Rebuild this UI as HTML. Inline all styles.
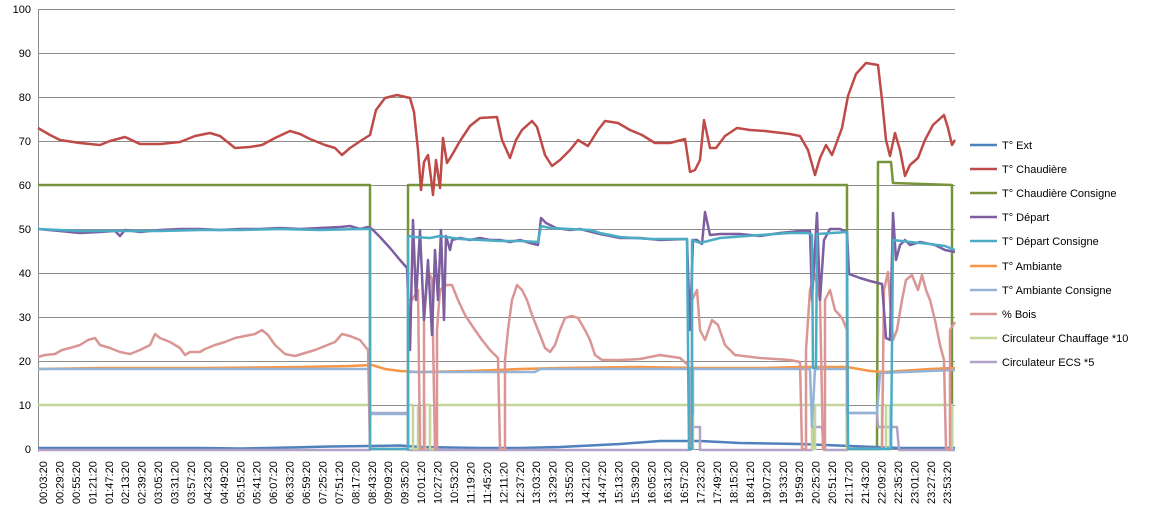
<!DOCTYPE html>
<html><head><meta charset="utf-8"><style>
body{margin:0;background:#fff;width:1158px;height:513px;overflow:hidden;font-family:"Liberation Sans",sans-serif}
svg text{font-family:"Liberation Sans",sans-serif;font-size:11px;fill:#000}
</style></head><body>
<svg width="1158" height="513" viewBox="0 0 1158 513" xmlns="http://www.w3.org/2000/svg">
<g stroke="#8c8c8c" stroke-width="1">
<line x1="38" y1="9.5" x2="955" y2="9.5"/><line x1="38" y1="53.5" x2="955" y2="53.5"/><line x1="38" y1="97.5" x2="955" y2="97.5"/><line x1="38" y1="141.5" x2="955" y2="141.5"/><line x1="38" y1="185.5" x2="955" y2="185.5"/><line x1="38" y1="229.5" x2="955" y2="229.5"/><line x1="38" y1="273.5" x2="955" y2="273.5"/><line x1="38" y1="317.5" x2="955" y2="317.5"/><line x1="38" y1="361.5" x2="955" y2="361.5"/><line x1="38" y1="405.5" x2="955" y2="405.5"/><line x1="38" y1="449.5" x2="955" y2="449.5"/>
<line x1="38.5" y1="9" x2="38.5" y2="452"/>
</g>
<g text-anchor="end">
<text x="31" y="13">100</text><text x="31" y="57">90</text><text x="31" y="101">80</text><text x="31" y="145">70</text><text x="31" y="189">60</text><text x="31" y="233">50</text><text x="31" y="277">40</text><text x="31" y="321">30</text><text x="31" y="365">20</text><text x="31" y="409">10</text><text x="31" y="453">0</text>
</g>
<g fill="none" stroke-width="2.5" stroke-linejoin="round">
<polyline stroke="#77933C" points="38,185 370,185 370,449 408,449 408,185 847,185 847,449 877,449 878,162 891,162 893,183 952,185 952,449"/>
<polyline stroke="#4F81BD" points="38,448 200,448 240,448.5 290,447.5 330,446.5 370,446 400,445.5 420,447 480,448 520,448 560,447 620,444 660,441 700,441 740,443 800,444 850,446 900,448 955,448"/>
<polyline stroke="#B3A2C7" points="38,450 370,450 370,413 408,413 408,450 690,450 690,427 700,427 700,450 812,450 814,427 822,427 824,450 847,450 847,413 877,413 878,427 897,427 899,450 955,450"/>
<polyline stroke="#C3D69B" points="38,405 370,405 370,449 408,449 408,405 413,405 413,449 418,449 418,405 420,405 420,449 425,449 425,405 430,405 430,449 435,449 435,405 690,405 690,449 693,449 693,405 812,405 812,449 815,449 815,405 847,405 847,449 882,449 882,405 886,405 886,449 890,449 890,405 952,405 952,449"/>
<polyline stroke="#F79646" points="38,369 100,368 200,368 300,367 350,366 372,365 385,369 400,371 420,372 470,371 520,369 560,368 640,367 700,368 760,368 800,367 847,367 870,371 885,372 900,371 930,369 955,368"/>
<polyline stroke="#95B3D7" points="38,369 370,369 370,414 408,414 408,372 535,372 540,369 690,369 690,414 693,414 693,369 810,369 812,427 815,369 847,369 847,413 877,413 880,373 955,370"/>
<polyline stroke="#D99694" points="38,357 45,355 55,354 62,350 70,348 80,345 88,340 95,338 100,345 110,348 120,352 130,354 140,350 150,345 155,334 160,338 170,342 180,348 185,355 190,352 200,352 205,349 215,345 225,342 235,338 245,336 255,334 262,330 268,335 275,345 285,354 295,356 305,353 315,350 325,346 335,342 342,334 350,336 360,340 368,350 370,449 408,449 408,300 412,300 418,290 420,449 424,449 424,320 428,270 432,280 435,449 437,449 437,330 440,290 446,285 452,285 458,300 465,315 475,330 482,340 490,350 498,358 500,449 505,449 505,360 508,330 512,300 517,285 522,290 527,300 532,315 540,335 545,348 550,352 555,345 560,330 565,318 572,316 578,318 585,330 590,340 595,355 602,360 620,360 640,359 660,355 680,358 688,365 690,449 692,449 692,300 697,290 700,330 705,340 712,320 718,325 725,345 735,355 760,358 790,360 800,362 802,449 806,449 806,350 810,290 815,274 820,300 823,449 825,449 825,300 830,290 835,310 842,318 847,330 848,449 882,449 884,290 888,272 890,300 893,340 897,330 902,300 906,280 912,275 918,290 922,275 926,290 930,300 935,320 940,345 944,360 946,449 950,449 950,330 955,322"/>
<polyline stroke="#7D5FA0" points="38,229 60,231 80,233 100,232 115,231 120,236 125,230 140,232 160,230 180,229 200,229 220,230 240,229 260,229 280,228 300,229 320,228 340,227 350,226 360,229 368,227 372,229 380,237 390,248 400,260 407,268 410,350 413,220 416,300 420,230 424,320 428,260 432,335 435,250 438,300 441,230 444,320 446,236 450,250 452,240 460,238 470,240 480,238 490,240 500,240 510,242 520,240 530,243 538,245 541,218 546,223 556,228 570,230 580,229 600,234 620,238 640,238 660,240 687,239 690,330 693,240 697,240 702,244 705,212 710,235 720,234 740,234 760,236 780,233 800,231 810,231 812,300 817,213 820,300 824,240 830,229 840,229 847,232 849,274 860,278 870,281 882,284 886,338 890,340 893,213 896,260 900,245 905,240 910,245 920,242 935,245 945,250 955,252"/>
<polyline stroke="#4BACC6" points="38,229 80,231 120,231 160,231 200,230 240,230 280,229 320,230 360,229 370,229 370,449 408,449 408,236 415,237 430,238 440,236 460,239 480,240 500,241 520,241 538,242 541,226 550,228 570,229 590,230 600,233 620,237 650,239 687,239 689,449 692,449 692,240 700,243 720,238 760,235 790,233 808,233 812,235 813,368 816,368 817,234 847,232 848,449 891,449 893,240 910,242 930,244 945,246 955,250"/>
<polyline stroke="#BE4B48" points="38,128 50,135 60,140 80,143 100,145 110,141 125,137 140,144 160,144 180,142 195,136 210,133 220,136 235,148 250,147 262,145 275,138 290,131 300,134 310,139 325,145 335,148 342,155 350,148 362,140 370,135 376,110 385,98 397,95 410,98 414,112 418,150 421,190 424,162 428,155 431,178 433,195 436,160 440,188 443,138 447,163 452,155 460,141 470,126 480,118 497,117 502,140 510,158 516,140 522,130 532,121 537,127 545,155 552,166 560,160 570,150 578,140 588,146 598,130 605,121 618,123 630,130 642,135 655,143 670,143 685,139 690,172 695,170 700,160 704,120 710,148 716,148 725,136 737,128 750,130 765,131 790,134 800,136 808,150 815,175 820,158 826,145 832,155 842,128 848,96 856,74 866,63 878,65 882,100 886,140 890,156 895,133 900,150 905,176 910,165 918,158 925,140 933,125 944,115 948,128 952,145 955,140"/>
</g>
<g>
<text transform="translate(47,504) rotate(-90)">00:03:20</text><text transform="translate(63.4,504) rotate(-90)">00:29:20</text><text transform="translate(79.9,504) rotate(-90)">00:55:20</text><text transform="translate(96.3,504) rotate(-90)">01:21:20</text><text transform="translate(112.8,504) rotate(-90)">01:47:20</text><text transform="translate(129.2,504) rotate(-90)">02:13:20</text><text transform="translate(145.6,504) rotate(-90)">02:39:20</text><text transform="translate(162.1,504) rotate(-90)">03:05:20</text><text transform="translate(178.5,504) rotate(-90)">03:31:20</text><text transform="translate(195,504) rotate(-90)">03:57:20</text><text transform="translate(211.4,504) rotate(-90)">04:23:20</text><text transform="translate(227.8,504) rotate(-90)">04:49:20</text><text transform="translate(244.3,504) rotate(-90)">05:15:20</text><text transform="translate(260.7,504) rotate(-90)">05:41:20</text><text transform="translate(277.2,504) rotate(-90)">06:07:20</text><text transform="translate(293.6,504) rotate(-90)">06:33:20</text><text transform="translate(310,504) rotate(-90)">06:59:20</text><text transform="translate(326.5,504) rotate(-90)">07:25:20</text><text transform="translate(342.9,504) rotate(-90)">07:51:20</text><text transform="translate(359.4,504) rotate(-90)">08:17:20</text><text transform="translate(375.8,504) rotate(-90)">08:43:20</text><text transform="translate(392.2,504) rotate(-90)">09:09:20</text><text transform="translate(408.7,504) rotate(-90)">09:35:20</text><text transform="translate(425.1,504) rotate(-90)">10:01:20</text><text transform="translate(441.6,504) rotate(-90)">10:27:20</text><text transform="translate(458,504) rotate(-90)">10:53:20</text><text transform="translate(474.4,504) rotate(-90)">11:19:20</text><text transform="translate(490.9,504) rotate(-90)">11:45:20</text><text transform="translate(507.3,504) rotate(-90)">12:11:20</text><text transform="translate(523.8,504) rotate(-90)">12:37:20</text><text transform="translate(540.2,504) rotate(-90)">13:03:20</text><text transform="translate(556.6,504) rotate(-90)">13:29:20</text><text transform="translate(573.1,504) rotate(-90)">13:55:20</text><text transform="translate(589.5,504) rotate(-90)">14:21:20</text><text transform="translate(606,504) rotate(-90)">14:47:20</text><text transform="translate(622.4,504) rotate(-90)">15:13:20</text><text transform="translate(638.8,504) rotate(-90)">15:39:20</text><text transform="translate(655.3,504) rotate(-90)">16:05:20</text><text transform="translate(671.7,504) rotate(-90)">16:31:20</text><text transform="translate(688.2,504) rotate(-90)">16:57:20</text><text transform="translate(704.6,504) rotate(-90)">17:23:20</text><text transform="translate(721,504) rotate(-90)">17:49:20</text><text transform="translate(737.5,504) rotate(-90)">18:15:20</text><text transform="translate(753.9,504) rotate(-90)">18:41:20</text><text transform="translate(770.4,504) rotate(-90)">19:07:20</text><text transform="translate(786.8,504) rotate(-90)">19:33:20</text><text transform="translate(803.2,504) rotate(-90)">19:59:20</text><text transform="translate(819.7,504) rotate(-90)">20:25:20</text><text transform="translate(836.1,504) rotate(-90)">20:51:20</text><text transform="translate(852.6,504) rotate(-90)">21:17:20</text><text transform="translate(869,504) rotate(-90)">21:43:20</text><text transform="translate(885.4,504) rotate(-90)">22:09:20</text><text transform="translate(901.9,504) rotate(-90)">22:35:20</text><text transform="translate(918.3,504) rotate(-90)">23:01:20</text><text transform="translate(934.8,504) rotate(-90)">23:27:20</text><text transform="translate(951.2,504) rotate(-90)">23:53:20</text>
</g>
<g stroke-width="2.5">
<line x1="970" y1="145" x2="997" y2="145" stroke="#4F81BD"/>
<line x1="970" y1="169" x2="997" y2="169" stroke="#BE4B48"/>
<line x1="970" y1="193" x2="997" y2="193" stroke="#77933C"/>
<line x1="970" y1="217" x2="997" y2="217" stroke="#7D5FA0"/>
<line x1="970" y1="241" x2="997" y2="241" stroke="#4BACC6"/>
<line x1="970" y1="266" x2="997" y2="266" stroke="#F79646"/>
<line x1="970" y1="290" x2="997" y2="290" stroke="#95B3D7"/>
<line x1="970" y1="314" x2="997" y2="314" stroke="#D99694"/>
<line x1="970" y1="338" x2="997" y2="338" stroke="#C3D69B"/>
<line x1="970" y1="362" x2="997" y2="362" stroke="#B3A2C7"/>
</g>
<g>
<text x="1002" y="149">T° Ext</text>
<text x="1002" y="173">T° Chaudière</text>
<text x="1002" y="197">T° Chaudière Consigne</text>
<text x="1002" y="221">T° Départ</text>
<text x="1002" y="245">T° Départ Consigne</text>
<text x="1002" y="270">T° Ambiante</text>
<text x="1002" y="294">T° Ambiante Consigne</text>
<text x="1002" y="318">% Bois</text>
<text x="1002" y="342">Circulateur Chauffage *10</text>
<text x="1002" y="366">Circulateur ECS *5</text>
</g>
</svg>
</body></html>
